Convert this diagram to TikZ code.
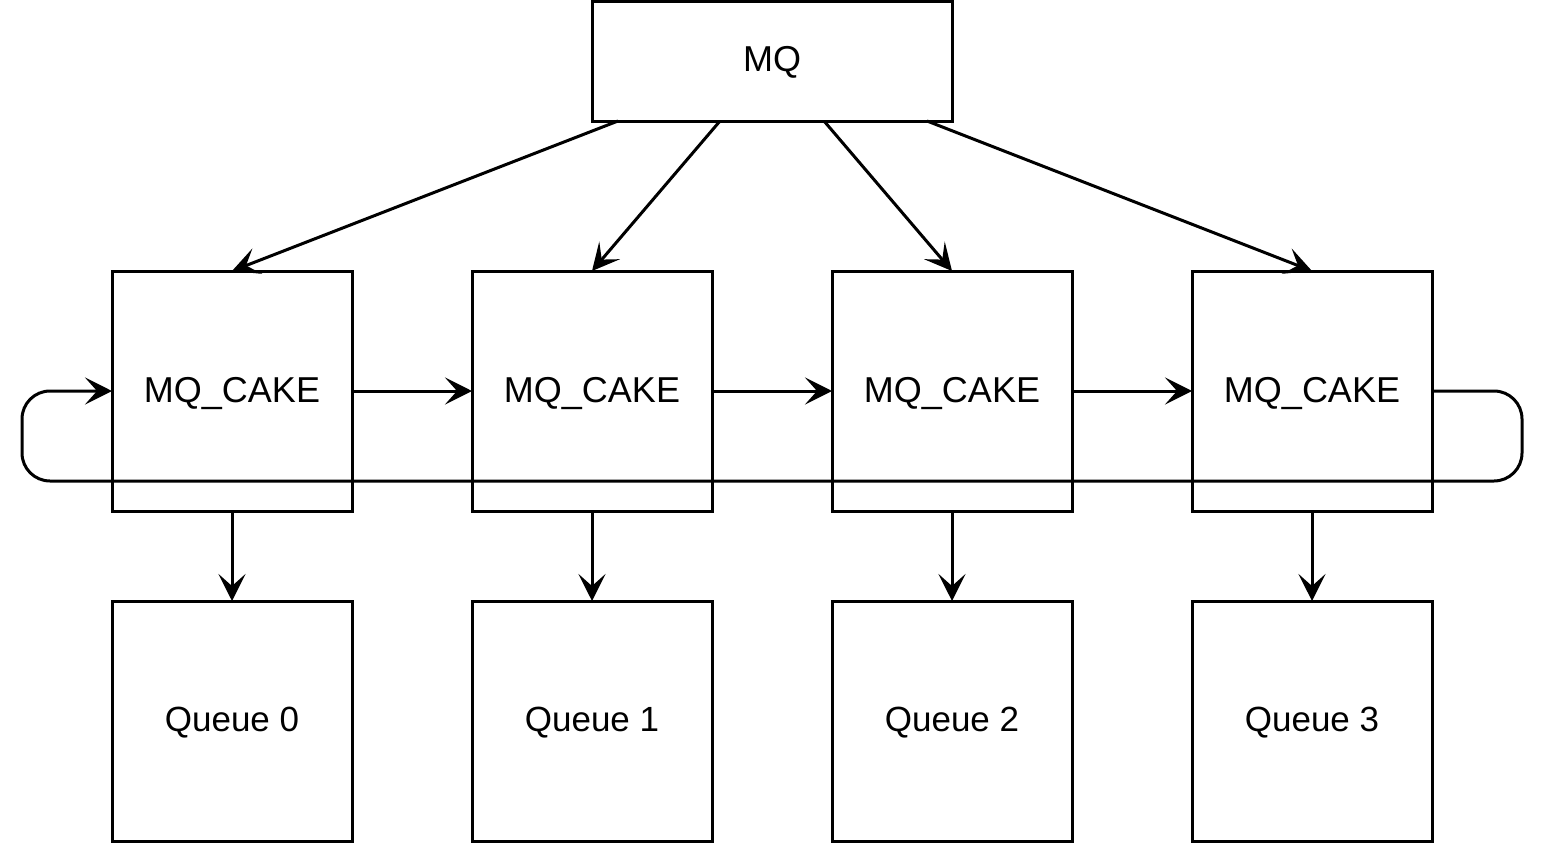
\documentclass[tikz,border=0pt]{standalone}
\usepackage{fontspec}
\setmainfont{Liberation Sans}
\usetikzlibrary{arrows.meta,calc}
\newcommand{\lowtext}[2]{\raisebox{-#1}[0pt][0pt]{#2}}
\begin{document}
\begin{tikzpicture}[x=1pt,y=-1pt]
\tikzset{
  box/.style={draw,line width=3pt,minimum width=240pt,minimum height=240pt,inner sep=0pt,outer sep=0pt,font=\fontsize{36}{40}\selectfont},
  qbox/.style={box,font=\fontsize{35}{40}\selectfont},
  conn/.style={line width=3pt,arrows={-Stealth[length=27pt,width=27pt,inset=12pt]}}}
\fill[white] (0,0) rectangle (1548,843);
\useasboundingbox (0,0) rectangle (1548,843);
\node[box,minimum width=360pt,minimum height=119pt] (mq) at (772,61.5) {\lowtext{10pt}{MQ}};
\foreach \i/\x in {0/232,1/592,2/952,3/1312}{
  \node[box] (c\i) at (\x,391) {\lowtext{11pt}{MQ\_CAKE}};
  \node[qbox] (q\i) at (\x,721) {\lowtext{10.5pt}{Queue \i}};
  \draw[conn] (c\i.south) -- (q\i.north);
}
\draw[conn] ($(mq.south)+(-154,0)$) -- (c0.north);
\draw[conn] ($(mq.south)+(-52,0)$) -- (c1.north);
\draw[conn] ($(mq.south)+(52,0)$) -- (c2.north);
\draw[conn] ($(mq.south)+(155,0)$) -- (c3.north);
\draw[conn] (c0.east) -- (c1.west);
\draw[conn] (c1.east) -- (c2.west);
\draw[conn] (c2.east) -- (c3.west);
\coordinate (r1) at (1522,391);
\coordinate (r2) at (1522,481);
\coordinate (l1) at (22,481);
\coordinate (l2) at (22,391);
\draw[conn,rounded corners=28pt] (c3.east) -- (r1) -- (r2) -- (l1) -- (l2) -- (c0.west);
\end{tikzpicture}
\end{document}
